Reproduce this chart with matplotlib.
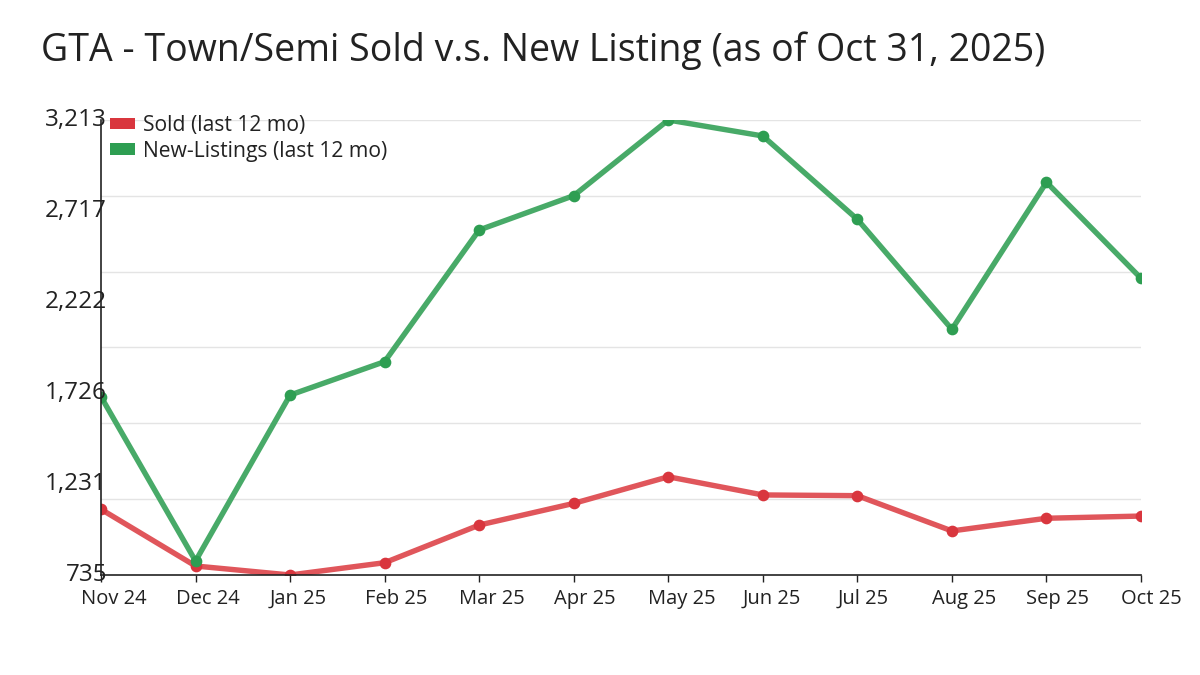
import matplotlib
matplotlib.use("Agg")
import matplotlib.pyplot as plt
from matplotlib.patches import Patch
from matplotlib.transforms import ScaledTranslation

plt.rcParams['font.family'] = ['Open Sans', 'DejaVu Sans']

months = ["Nov 24", "Dec 24", "Jan 25", "Feb 25", "Mar 25", "Apr 25",
          "May 25", "Jun 25", "Jul 25", "Aug 25", "Sep 25", "Oct 25"]
sold = [1093, 784, 735, 802, 1007, 1125, 1270, 1171, 1167, 975, 1044, 1056]
new_listings = [1706, 811, 1715, 1897, 2614, 2801, 3213, 3126, 2672, 2073, 2874, 2351]
ytick_values = [735, 1231, 1726, 2222, 2717, 3213]
ytick_labels = ["735", "1,231", "1,726", "2,222", "2,717", "3,213"]
grid_values = [735, 1148, 1561, 1974, 2387, 2800, 3213]

title = "GTA - Town/Semi Sold v.s. New Listing (as of Oct 31, 2025)"
sold_label = "Sold (last 12 mo)"
new_label = "New-Listings (last 12 mo)"

RED_LINE = "#e0565b"
RED_MARK = "#d9363e"
GREEN_LINE = "#48aa68"
GREEN_MARK = "#2e9e52"
TEXT = "#222222"

fig = plt.figure(figsize=(12, 6.75), dpi=100)
ax = fig.add_axes([101/1200, 1-575/675, (1141-101)/1200, (575-120)/675])

x = list(range(len(months)))
for g in grid_values[1:]:
    ax.axhline(g, color="#e4e4e4", lw=1.0, zorder=0)

ax.plot(x, sold, color=RED_LINE, lw=3.9, zorder=3, solid_capstyle="round")
ax.plot(x, sold, 'o', color=RED_MARK, ms=7.4, zorder=4)
ax.plot(x, new_listings, color=GREEN_LINE, lw=3.9, zorder=5, solid_capstyle="round")
ax.plot(x, new_listings, 'o', color=GREEN_MARK, ms=7.4, zorder=6)

ax.set_xlim(0, len(months) - 1)
ax.set_ylim(min(ytick_values), max(ytick_values))

ax.set_xticks(x)
ax.set_xticklabels(months, fontsize=14.5, color=TEXT, ha='left')
ax.tick_params(axis='x', length=5, width=1, color="#222222", pad=5)
shift = ScaledTranslation(-20/100, 0, fig.dpi_scale_trans)
for lab in ax.get_xticklabels():
    lab.set_transform(lab.get_transform() + shift)

ax.set_yticks([])
for v, lab in zip(ytick_values, ytick_labels):
    ax.annotate(lab, xy=(0, v), xycoords=('axes fraction', 'data'),
                xytext=(4.4, 0.2), textcoords='offset points',
                ha='right', va='center', fontsize=17.5, color=TEXT,
                annotation_clip=False, zorder=10)

for s in ['top', 'right']:
    ax.spines[s].set_visible(False)
for s in ['left', 'bottom']:
    ax.spines[s].set_color("#222222")
    ax.spines[s].set_linewidth(1.2)
    ax.spines[s].set_zorder(7)

handles = [Patch(facecolor=RED_MARK, edgecolor='none', label=sold_label),
           Patch(facecolor=GREEN_MARK, edgecolor='none', label=new_label)]
fig.legend(handles=handles, loc='upper left',
           bbox_to_anchor=(110/1200, 1-115/675), frameon=False,
           fontsize=15.2, handlelength=1.2, handleheight=0.48,
           handletextpad=0.38, labelspacing=0.22, borderpad=0,
           borderaxespad=0, labelcolor=TEXT)

fig.text(41/1200, 1-61/675, title, fontsize=27, color=TEXT,
         ha='left', va='baseline')

fig.savefig("out.png", dpi=100, facecolor="white")
